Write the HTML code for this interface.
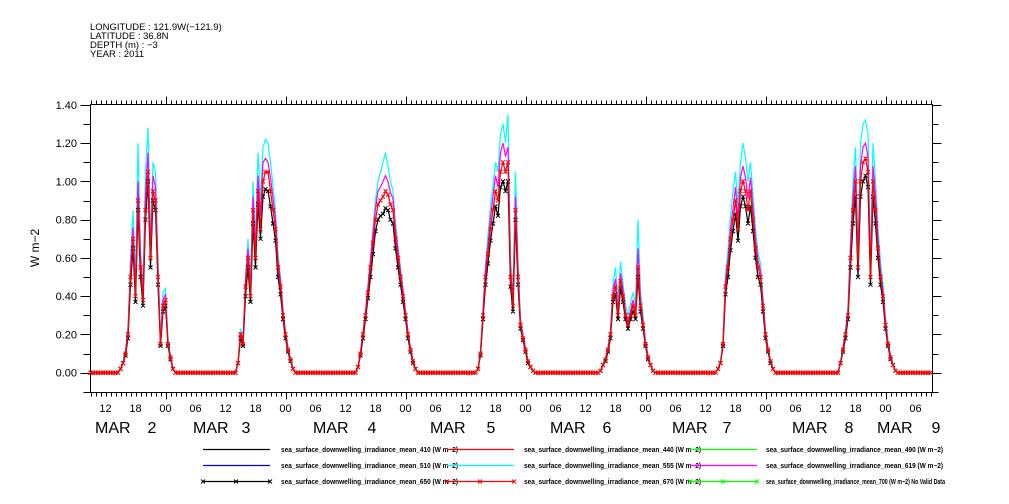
<!DOCTYPE html>
<html><head><meta charset="utf-8"><style>
html,body{margin:0;padding:0;background:#fff;}
svg{display:block;font-family:"Liberation Sans",sans-serif;}
</style></head><body>
<svg id="chart" width="1009" height="504" viewBox="0 0 1009 504" xmlns="http://www.w3.org/2000/svg">
<rect width="1009" height="504" fill="#fff"/>
<g font-size="9.5" fill="#000">
<text x="90" y="30">LONGITUDE : 121.9W(−121.9)</text>
<text x="90" y="39">LATITUDE : 36.8N</text>
<text x="90" y="48">DEPTH (m) : −3</text>
<text x="90" y="57">YEAR : 2011</text>
</g>
<g id="axes"></g>
<g id="series"></g>
<g id="legend"></g>
<text transform="translate(39,248) rotate(-90)" text-anchor="middle" font-size="12">W m−2</text>
</svg>
<script>
// hours since Mar 2 00:00; each day array starts at 14:00 + 24*d, half-hourly
const dayStarts = [14, 38, 62, 86, 110, 134, 158];
const red670 = [
[0,0,0.02,0.05,0.1,0.2,0.5,0.7,0.4,0.9,0.55,0.38,0.85,1.05,0.6,0.95,0.9,0.5,0.15,0.35,0.38,0.15,0.08,0.02,0,0],
[0,0.05,0.2,0.15,0.45,0.6,0.4,0.85,0.6,0.95,0.75,1.0,1.05,1.05,0.95,0.85,0.75,0.55,0.45,0.3,0.2,0.12,0.07,0.02,0,0],
[0,0.03,0.1,0.2,0.3,0.42,0.55,0.68,0.8,0.88,0.9,0.92,0.95,0.93,0.88,0.85,0.7,0.6,0.5,0.4,0.3,0.2,0.12,0.06,0.02,0],
[0,0.02,0.1,0.3,0.5,0.62,0.75,0.85,0.95,0.9,1.05,1.1,1.05,1.1,0.5,0.35,0.85,0.5,0.25,0.18,0.12,0.06,0.03,0.01,0,0],
[0,0,0.01,0.04,0.07,0.12,0.2,0.4,0.45,0.3,0.48,0.4,0.3,0.25,0.3,0.35,0.3,0.55,0.35,0.25,0.15,0.08,0.04,0.01,0,0],
[0,0.02,0.05,0.15,0.45,0.55,0.7,0.8,0.9,0.75,0.95,1.0,0.95,0.85,0.95,0.8,0.65,0.55,0.5,0.35,0.2,0.12,0.06,0.02,0,0],
[0,0,0.05,0.12,0.2,0.3,0.6,0.85,1.0,0.55,1.0,1.1,1.12,1.05,0.5,1.0,0.85,0.65,0.5,0.4,0.25,0.15,0.08,0.04,0.01,0]];
const cyan555 = [
[0,0,0.02,0.06,0.12,0.24,0.6,0.85,0.5,1.2,0.65,0.45,1.05,1.28,0.7,1.1,1.05,0.6,0.18,0.42,0.44,0.18,0.09,0.02,0,0],
[0,0.06,0.23,0.18,0.5,0.7,0.48,1.0,0.7,1.15,0.9,1.18,1.22,1.2,1.1,0.98,0.85,0.62,0.5,0.34,0.22,0.13,0.08,0.02,0,0],
[0,0.03,0.11,0.22,0.33,0.46,0.6,0.75,0.9,1.0,1.05,1.1,1.15,1.08,1.0,0.95,0.78,0.66,0.55,0.44,0.33,0.22,0.13,0.07,0.02,0],
[0,0.02,0.11,0.34,0.57,0.72,0.87,0.98,1.1,1.05,1.25,1.3,1.2,1.35,0.6,0.42,1.05,0.6,0.28,0.2,0.13,0.07,0.03,0.01,0,0],
[0,0,0.01,0.05,0.08,0.14,0.23,0.46,0.55,0.36,0.58,0.47,0.35,0.3,0.36,0.42,0.36,0.8,0.42,0.3,0.17,0.09,0.04,0.01,0,0],
[0,0.02,0.06,0.17,0.52,0.64,0.82,0.95,1.05,0.88,1.1,1.2,1.12,1.0,1.1,0.93,0.75,0.63,0.57,0.4,0.23,0.13,0.07,0.02,0,0],
[0,0,0.06,0.14,0.23,0.35,0.7,1.0,1.18,0.65,1.2,1.3,1.32,1.25,0.6,1.2,1.0,0.76,0.58,0.46,0.29,0.17,0.09,0.04,0.01,0]];
const magenta619 = [
[0,0,0.02,0.05,0.11,0.22,0.54,0.76,0.44,1.0,0.6,0.41,0.93,1.15,0.65,1.03,0.97,0.54,0.16,0.38,0.41,0.16,0.08,0.02,0,0],
[0,0.05,0.21,0.16,0.48,0.65,0.43,0.92,0.65,1.03,0.82,1.1,1.12,1.1,1.02,0.91,0.8,0.59,0.48,0.32,0.21,0.13,0.07,0.02,0,0],
[0,0.03,0.11,0.21,0.32,0.45,0.59,0.73,0.86,0.95,0.97,1.0,1.03,1.0,0.94,0.91,0.75,0.64,0.53,0.43,0.32,0.21,0.13,0.06,0.02,0],
[0,0.02,0.11,0.32,0.54,0.67,0.81,0.92,1.03,0.97,1.15,1.2,1.13,1.18,0.54,0.38,0.92,0.54,0.27,0.19,0.13,0.06,0.03,0.01,0,0],
[0,0,0.01,0.04,0.07,0.13,0.21,0.43,0.49,0.32,0.52,0.43,0.32,0.27,0.32,0.38,0.32,0.65,0.38,0.27,0.16,0.09,0.04,0.01,0,0],
[0,0.02,0.05,0.16,0.48,0.59,0.75,0.86,0.97,0.8,1.02,1.08,1.02,0.91,1.02,0.86,0.7,0.59,0.53,0.37,0.21,0.13,0.06,0.02,0,0],
[0,0,0.05,0.13,0.21,0.32,0.65,0.92,1.08,0.59,1.08,1.18,1.2,1.13,0.54,1.08,0.92,0.7,0.53,0.43,0.27,0.16,0.09,0.04,0.01,0]];
const black650 = [
[0,0,0.02,0.05,0.09,0.18,0.46,0.65,0.37,0.85,0.5,0.35,0.8,1.0,0.55,0.9,0.85,0.46,0.14,0.32,0.35,0.14,0.07,0.02,0,0],
[0,0.05,0.18,0.14,0.4,0.55,0.37,0.78,0.55,0.88,0.7,0.92,0.96,0.95,0.87,0.78,0.69,0.5,0.41,0.28,0.18,0.11,0.06,0.02,0,0],
[0,0.03,0.09,0.18,0.28,0.39,0.5,0.62,0.74,0.8,0.82,0.83,0.86,0.85,0.8,0.78,0.65,0.55,0.46,0.37,0.28,0.18,0.11,0.05,0.02,0],
[0,0.02,0.09,0.28,0.46,0.57,0.69,0.78,0.87,0.82,0.97,1.0,0.95,1.0,0.45,0.32,0.8,0.46,0.23,0.17,0.11,0.05,0.03,0.01,0,0],
[0,0,0.01,0.04,0.06,0.11,0.18,0.37,0.41,0.28,0.44,0.37,0.28,0.23,0.28,0.32,0.28,0.5,0.32,0.23,0.14,0.07,0.04,0.01,0,0],
[0,0.02,0.05,0.14,0.41,0.5,0.64,0.74,0.83,0.69,0.87,0.92,0.87,0.78,0.87,0.74,0.6,0.5,0.46,0.32,0.18,0.11,0.05,0.02,0,0],
[0,0,0.05,0.11,0.18,0.28,0.55,0.78,0.92,0.5,0.92,1.0,1.03,0.97,0.46,0.92,0.78,0.6,0.46,0.37,0.23,0.14,0.07,0.04,0.01,0]];
const yTicks = ["0.00","0.20","0.40","0.60","0.80","1.00","1.20","1.40"];
const xTickHours = [12,18,24,30,36,42,48,54,60,66,72,78,84,90,96,102,108,114,120,126,132,138,144,150,156,162,168,174];
const dayNumbers = ["2","3","4","5","6","7","8","9"];
const legendLabels = [
"sea_surface_downwelling_irradiance_mean_410 (W m−2)","sea_surface_downwelling_irradiance_mean_440 (W m−2)","sea_surface_downwelling_irradiance_mean_490 (W m−2)",
"sea_surface_downwelling_irradiance_mean_510 (W m−2)","sea_surface_downwelling_irradiance_mean_555 (W m−2)","sea_surface_downwelling_irradiance_mean_619 (W m−2)",
"sea_surface_downwelling_irradiance_mean_650 (W m−2)","sea_surface_downwelling_irradiance_mean_670 (W m−2)","sea_surface_downwelling_irradiance_mean_700 (W m−2) No Valid Data"];

const NS="http://www.w3.org/2000/svg";
const X0=90.5, X1=932.5, Y0=104.5, Y1=392.5;
const H0=9, H1=H0+(X1-X0)/5;
const xS=h=>X0+(h-H0)*(X1-X0)/(H1-H0);
const yS=v=>372.7-v*191.3;
function mk(tag,attrs,parent){const e=document.createElementNS(NS,tag);for(const k in attrs)e.setAttribute(k,attrs[k]);parent.appendChild(e);return e;}
const axes=document.getElementById('axes');
const fr=mk('rect',{x:X0,y:Y0,width:X1-X0,height:Y1-Y0,fill:'none',stroke:'#000','stroke-width':1},axes);


for(let h=Math.ceil(H0);h<=H1;h++){
  const x=Math.round(xS(h))+0.5, major=(h%24===0);
  const t1=mk('line',{x1:x,x2:x,y1:Y1,y2:Y1+(major?7:4),stroke:'#000'},axes);
  
  
  const t2=mk('line',{x1:x,x2:x,y1:Y0,y2:Y0-(major?8:4),stroke:'#000'},axes);
  
  
}
xTickHours.forEach(h=>{
  const t=mk('text',{x:xS(h),y:412,'text-anchor':'middle','font-size':11},axes);
  t.textContent=String(h%24).padStart(2,'0');
  
  
});
const marX=[95,193,313,430,550,672,792,877];
const numX=[152,246,372,491,607,727,849,936];
dayNumbers.forEach((s,i)=>{
  const a=mk('text',{x:marX[i],y:433,'font-size':16},axes);
  a.textContent='MAR';
  
  
  const b=mk('text',{x:numX[i],y:433,'font-size':16,'text-anchor':'middle'},axes);
  b.textContent=s;
  
  
});
for(let k=-1;k<=14;k++){
  const v=k/10, y=Math.round(yS(v))+0.5;
  if(y<Y0-1||y>Y1+1) continue;
  const l=mk('line',{x1:X0-(k%2===0?10:7),x2:X0,y1:y,y2:y,stroke:'#000'},axes);
  
  
  const r=mk('line',{x1:X1,x2:X1+(k%2===0?9:6),y1:y,y2:y,stroke:'#000'},axes);
  
  
}
yTicks.forEach(s=>{
  const t=mk('text',{x:77,y:yS(parseFloat(s))+4,'text-anchor':'end','font-size':11},axes);
  t.textContent=s;
  
  
});
function valueAt(arr,h){
  for(let d=0;d<dayStarts.length;d++){
    const i=Math.round((h-dayStarts[d])*2);
    if(i>=0&&i<arr[d].length) return arr[d][i];
  }
  return 0;
}
const sg=document.getElementById('series');
function drawSeries(arr,color,name,markers){
  const pts=[];
  for(let h=H0;h<=H1;h+=0.5) pts.push([xS(h),yS(valueAt(arr,h))]);
  const p=mk('polyline',{points:pts.map(q=>q[0].toFixed(1)+','+q[1].toFixed(1)).join(' '),fill:'none',stroke:color,'stroke-width':1.2},sg);
  
  
  if(markers){
    const d=pts.map(q=>`M${(q[0]-2).toFixed(1)},${(q[1]-2).toFixed(1)}l4,4m0,-4l-4,4`).join('');
    const m=mk('path',{d:d,stroke:color,'stroke-width':1,fill:'none'},sg);
    
    
  }
}
drawSeries(cyan555,'#00ffff','series-555',false);
drawSeries(magenta619,'#ff00ff','series-619',false);
drawSeries(black650,'#000000','series-650',true);
drawSeries(red670,'#ff0000','series-670',true);
const lg=document.getElementById('legend');
const cols=[{lx:203,tx:281},{lx:447,tx:524},{lx:690,tx:766}];
const rows=[449,465,481];
const styles=[['#000',false],['#f00',false],['#0f0',false],['#00f',false],['#0ff',false],['#f0f',false],['#000',true],['#f00',true],['#0f0',true]];
legendLabels.forEach((s,i)=>{
  const c=cols[i%3], y=rows[Math.floor(i/3)]+0.5, st=styles[i];
  const g=mk('g',{},lg);
  
  
  mk('line',{x1:c.lx,x2:c.lx+67,y1:y,y2:y,stroke:st[0],'stroke-width':1.3},g);
  if(st[1]){
    [0,33,67].forEach(dx=>mk('path',{d:`M${c.lx+dx-2},${y-2}l4,4m0,-4l-4,4`,stroke:st[0],fill:'none'},g));
  }
  const t=mk('text',{x:c.tx,y:y+2.5,'font-size':7,'font-weight':'bold',textLength:(i===8?179:177),lengthAdjust:'spacingAndGlyphs'},g);
  t.textContent=s;
});
</script>
</body></html>
